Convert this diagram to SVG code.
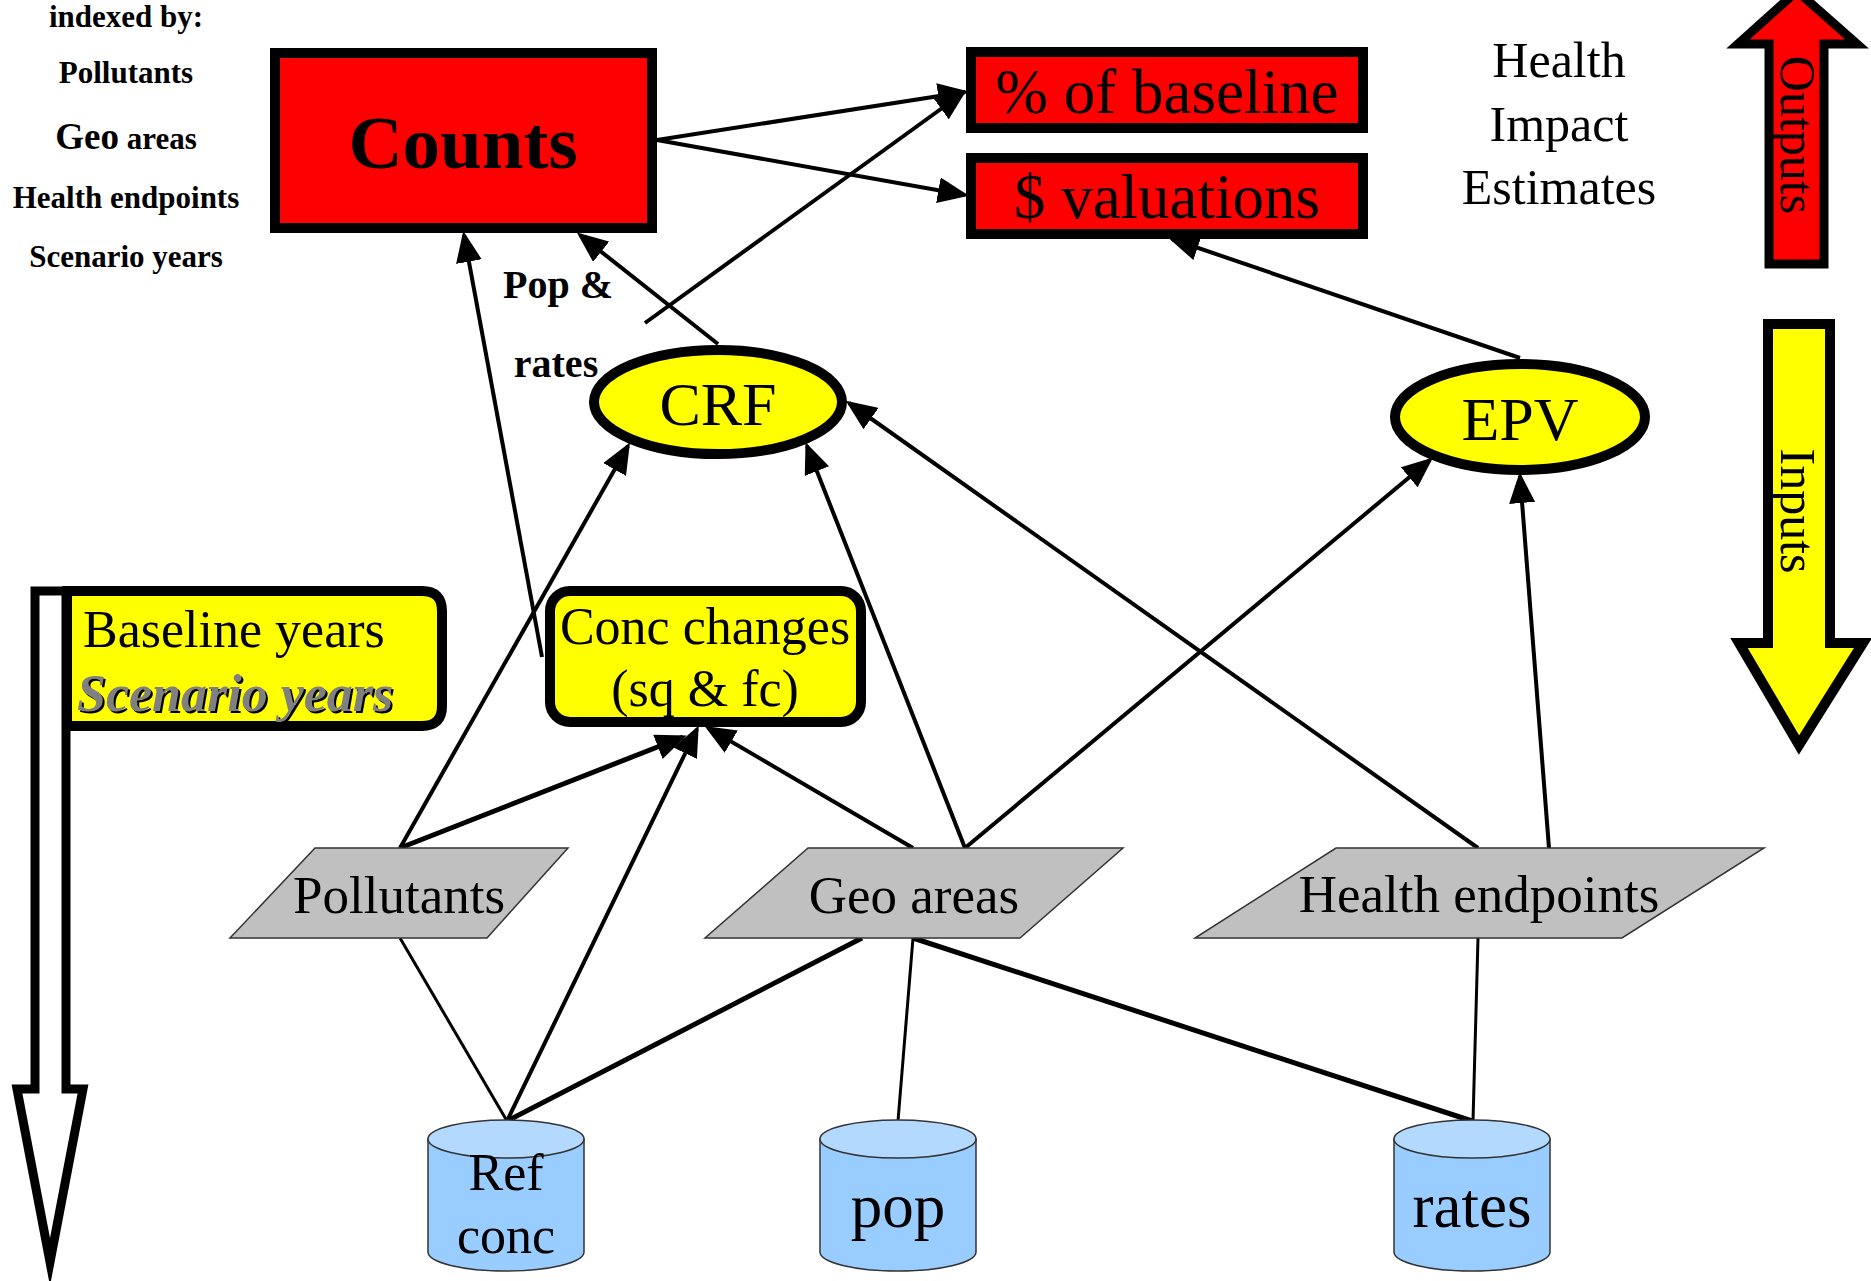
<svg xmlns="http://www.w3.org/2000/svg" width="1871" height="1281" viewBox="0 0 1871 1281">
<defs>
<style>
text{font-family:"Liberation Serif","Times New Roman",serif;fill:#000}
.idx{font-size:31px;font-weight:bold;text-anchor:middle}
.thick{fill:none;stroke:#000;stroke-width:10}
.red{fill:#ff0000}
.yel{fill:#ffff00}
.para{fill:#c0c0c0;stroke:#333;stroke-width:1.5}
.cylb{fill:#99ccff;stroke:#333;stroke-width:1.5}
.cylt{fill:#b3d9ff;stroke:#333;stroke-width:1.5}
.c{text-anchor:middle}
.conn line{stroke:#000;stroke-width:4}
.conn line.a{marker-end:url(#ah)}
.conn line.t3{stroke-width:3}
.conn line.t5{stroke-width:5}
</style>
<marker id="ah" markerUnits="userSpaceOnUse" markerWidth="32" markerHeight="26" viewBox="0 0 32 26" refX="27" refY="13" orient="auto">
<path d="M0,0 L31,13 L0,26 Z" fill="#000"/>
</marker>
</defs>
<rect width="1871" height="1281" fill="#fff"/>

<g id="index-label">
<text class="idx" x="126" y="27">indexed by:</text>
<text class="idx" x="126" y="83">Pollutants</text>
<text class="idx" x="126" y="149"><tspan font-size="37">Geo</tspan> areas</text>
<text class="idx" x="126" y="208">Health endpoints</text>
<text class="idx" x="126" y="267">Scenario years</text>
</g>

<g id="pop-rates-label">
<text x="558" y="298" class="c" font-size="40" font-weight="bold">Pop &amp;</text>
<text x="556" y="377" class="c" font-size="40" font-weight="bold">rates</text>
</g>

<g id="health-impact-label">
<text x="1559" y="77" class="c" font-size="50">Health</text>
<text x="1559" y="141" class="c" font-size="50">Impact</text>
<text x="1559" y="204" class="c" font-size="50">Estimates</text>
</g>

<g id="outputs-arrow">
<polygon points="1797,-9 1857,44 1824,44 1824,264 1769,264 1769,44 1738,44" fill="#ff0000" stroke="#000" stroke-width="9" stroke-miterlimit="10"/>
<text transform="translate(1797,135) rotate(90)" x="0" y="16" class="c" font-size="50">Outputs</text>
</g>

<g id="inputs-arrow">
<polygon points="1768,324 1830,324 1830,643 1863,643 1799,745 1739,643 1768,643" fill="#ffff00" stroke="#000" stroke-width="10" stroke-miterlimit="10"/>
<text transform="translate(1797,511) rotate(90)" x="0" y="16" class="c" font-size="50">Inputs</text>
</g>

<g id="connectors" class="conn">
<line class="a" x1="657" y1="140" x2="965" y2="92"/>
<line class="a" x1="657" y1="140" x2="965" y2="195"/>
<line class="a" x1="645" y1="323" x2="963" y2="93"/>
<line class="a" x1="718" y1="344" x2="580" y2="235"/>
<line class="a" x1="542" y1="657" x2="464" y2="235"/>
<line class="a" x1="400" y1="848" x2="628" y2="446"/>
<line class="a t5" x1="400" y1="848" x2="683" y2="737"/>
<line class="a" x1="507" y1="1121" x2="697" y2="729"/>
<line class="a" x1="913" y1="848" x2="708" y2="728"/>
<line class="a" x1="965" y1="848" x2="807" y2="446"/>
<line class="a" x1="965" y1="848" x2="1430" y2="460"/>
<line class="a" x1="1478" y1="848" x2="849" y2="403"/>
<line class="a" x1="1549" y1="848" x2="1520" y2="476"/>
<line class="a" x1="1520" y1="358" x2="1172" y2="239"/>
<line class="t3" x1="400" y1="938" x2="507" y2="1121"/>
<line class="t5" x1="862" y1="938" x2="507" y2="1121"/>
<line class="t3" x1="913" y1="938" x2="898" y2="1121"/>
<line class="t5" x1="913" y1="938" x2="1472" y2="1121"/>
<line class="t3" x1="1478" y1="938" x2="1473" y2="1121"/>
</g>

<g id="counts">
<rect x="275" y="53" width="377" height="175" class="red thick"/>
<text x="463" y="168" class="c" font-size="75" font-weight="bold">Counts</text>
</g>

<g id="pct-baseline">
<rect x="971" y="52" width="392" height="76" class="red thick"/>
<text x="1167" y="113" class="c" font-size="63">% of baseline</text>
</g>

<g id="valuations">
<rect x="971" y="158" width="392" height="76" class="red thick"/>
<text x="1167" y="218" class="c" font-size="63">$ valuations</text>
</g>

<g id="crf">
<ellipse cx="718" cy="402" rx="124" ry="52" class="yel thick"/>
<text x="718" y="425" class="c" font-size="62">CRF</text>
</g>

<g id="epv">
<ellipse cx="1520" cy="417" rx="125" ry="53" class="yel thick"/>
<text x="1520" y="440" class="c" font-size="62">EPV</text>
</g>

<g id="conc-changes">
<rect x="550" y="591" width="311" height="131" rx="20" ry="20" class="yel thick"/>
<text x="705" y="644" class="c" font-size="52">Conc changes</text>
<text x="705" y="706" class="c" font-size="52">(sq &amp; fc)</text>
</g>

<g id="years">
<polygon points="35,591 66,591 66,1089 83,1089 50,1262 17,1089 35,1089" fill="#fff" stroke="#000" stroke-width="9" stroke-miterlimit="12"/>
<path d="M67,591 H422 Q442,591 442,611 V706 Q442,726 422,726 H67 Z" class="yel thick"/>
<text x="83" y="647" font-size="52">Baseline years</text>
<text x="79" y="713" font-size="52" font-weight="bold" font-style="italic" fill="#000">Scenario years</text>
<text x="77" y="711" font-size="52" font-weight="bold" font-style="italic" style="fill:#808080">Scenario years</text>
</g>

<g id="pollutants">
<polygon points="315,848 568,848 487,938 230,938" class="para"/>
<text x="399" y="913" class="c" font-size="53">Pollutants</text>
</g>

<g id="geo-areas">
<polygon points="808,848 1123,848 1020,938 705,938" class="para"/>
<text x="914" y="913" class="c" font-size="53">Geo areas</text>
</g>

<g id="health-endpoints">
<polygon points="1336,848 1764,848 1622,938 1195,938" class="para"/>
<text x="1479" y="912" class="c" font-size="53">Health endpoints</text>
</g>

<g id="ref-conc">
<path d="M428,1139 V1252 A78,19 0 0 0 584,1252 V1139 Z" class="cylb"/>
<ellipse cx="506" cy="1139" rx="78" ry="19" class="cylt"/>
<text x="506" y="1190" class="c" font-size="52">Ref</text>
<text x="506" y="1253" class="c" font-size="52">conc</text>
</g>

<g id="pop">
<path d="M820,1139 V1252 A78,19 0 0 0 976,1252 V1139 Z" class="cylb"/>
<ellipse cx="898" cy="1139" rx="78" ry="19" class="cylt"/>
<text x="898" y="1227" class="c" font-size="63">pop</text>
</g>

<g id="rates">
<path d="M1394,1139 V1252 A78,19 0 0 0 1550,1252 V1139 Z" class="cylb"/>
<ellipse cx="1472" cy="1139" rx="78" ry="19" class="cylt"/>
<text x="1472" y="1227" class="c" font-size="63">rates</text>
</g>
</svg>
